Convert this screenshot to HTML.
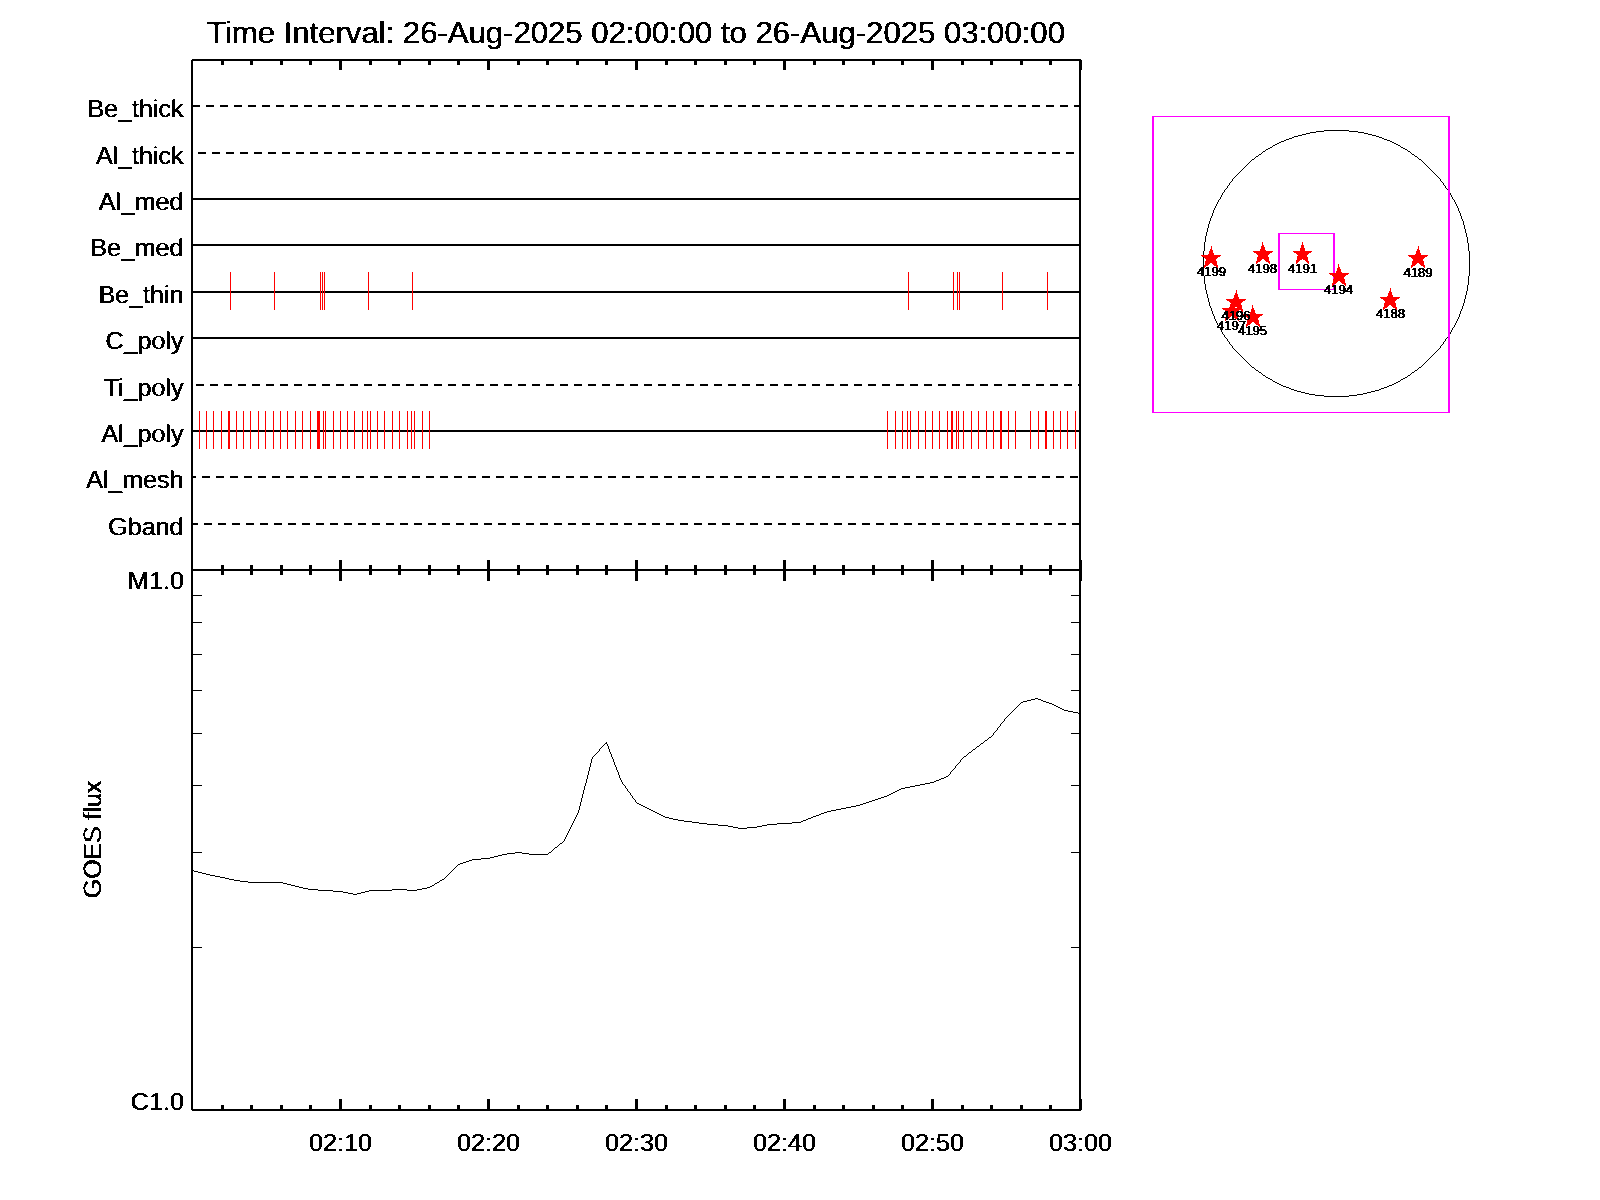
<!DOCTYPE html>
<html lang="en"><head><meta charset="utf-8"><title>Time Interval: 26-Aug-2025 02:00:00 to 26-Aug-2025 03:00:00</title>
<style>html,body{margin:0;padding:0;background:#fff}svg{display:block}</style></head>
<body><svg width="1600" height="1200" viewBox="0 0 1600 1200">
<defs><filter id="bw" x="-5%" y="-20%" width="110%" height="140%" color-interpolation-filters="sRGB"><feComponentTransfer><feFuncA type="discrete" tableValues="0 1"/></feComponentTransfer></filter>
<filter id="bwh" x="-5%" y="-20%" width="110%" height="140%" color-interpolation-filters="sRGB"><feComponentTransfer in="SourceGraphic" result="solid"><feFuncA type="discrete" tableValues="0 0 0 0 0 0 0 0 0 1"/></feComponentTransfer><feConvolveMatrix in="solid" order="3 1" kernelMatrix="0.38 0 0.38" divisor="1" preserveAlpha="false" edgeMode="none" result="boost"/><feComposite in="SourceGraphic" in2="boost" operator="arithmetic" k1="0" k2="1" k3="1" k4="0"/><feComponentTransfer><feFuncA type="discrete" tableValues="0 1"/></feComponentTransfer></filter>
<filter id="bwv" x="-20%" y="-5%" width="140%" height="110%" color-interpolation-filters="sRGB"><feComponentTransfer in="SourceGraphic" result="solid"><feFuncA type="discrete" tableValues="0 0 0 0 0 0 0 0 0 1"/></feComponentTransfer><feConvolveMatrix in="solid" order="1 3" kernelMatrix="0.38 0 0.38" divisor="1" preserveAlpha="false" edgeMode="none" result="boost"/><feComposite in="SourceGraphic" in2="boost" operator="arithmetic" k1="0" k2="1" k3="1" k4="0"/><feComponentTransfer><feFuncA type="discrete" tableValues="0 1"/></feComponentTransfer></filter></defs>
<rect width="1600" height="1200" fill="#fff"/>
<g shape-rendering="crispEdges">
<rect x="191" y="60" width="1" height="1050" fill="#000"/>
<rect x="192" y="59" width="1" height="1052" fill="#000"/>
<rect x="1080" y="60" width="1" height="1050" fill="#000"/>
<rect x="1079" y="59" width="1" height="1052" fill="#000"/>
<rect x="192" y="59" width="889" height="1" fill="#000"/>
<rect x="191" y="60" width="890" height="1" fill="#000"/>
<rect x="191" y="569" width="890" height="2" fill="#000"/>
<rect x="191" y="1109" width="890" height="1" fill="#000"/>
<rect x="192" y="1110" width="889" height="1" fill="#000"/>
<rect x="221" y="61" width="3" height="4" fill="#000"/>
<rect x="221" y="565" width="3" height="10" fill="#000"/>
<rect x="221" y="1105" width="3" height="4" fill="#000"/>
<rect x="250" y="61" width="3" height="4" fill="#000"/>
<rect x="250" y="565" width="3" height="10" fill="#000"/>
<rect x="250" y="1105" width="3" height="4" fill="#000"/>
<rect x="280" y="61" width="3" height="4" fill="#000"/>
<rect x="280" y="565" width="3" height="10" fill="#000"/>
<rect x="280" y="1105" width="3" height="4" fill="#000"/>
<rect x="309" y="61" width="3" height="4" fill="#000"/>
<rect x="309" y="565" width="3" height="10" fill="#000"/>
<rect x="309" y="1105" width="3" height="4" fill="#000"/>
<rect x="339" y="61" width="3" height="9" fill="#000"/>
<rect x="339" y="560" width="3" height="21" fill="#000"/>
<rect x="339" y="1099" width="3" height="10" fill="#000"/>
<rect x="369" y="61" width="3" height="4" fill="#000"/>
<rect x="369" y="565" width="3" height="10" fill="#000"/>
<rect x="369" y="1105" width="3" height="4" fill="#000"/>
<rect x="398" y="61" width="3" height="4" fill="#000"/>
<rect x="398" y="565" width="3" height="10" fill="#000"/>
<rect x="398" y="1105" width="3" height="4" fill="#000"/>
<rect x="428" y="61" width="3" height="4" fill="#000"/>
<rect x="428" y="565" width="3" height="10" fill="#000"/>
<rect x="428" y="1105" width="3" height="4" fill="#000"/>
<rect x="457" y="61" width="3" height="4" fill="#000"/>
<rect x="457" y="565" width="3" height="10" fill="#000"/>
<rect x="457" y="1105" width="3" height="4" fill="#000"/>
<rect x="487" y="61" width="3" height="9" fill="#000"/>
<rect x="487" y="560" width="3" height="21" fill="#000"/>
<rect x="487" y="1099" width="3" height="10" fill="#000"/>
<rect x="517" y="61" width="3" height="4" fill="#000"/>
<rect x="517" y="565" width="3" height="10" fill="#000"/>
<rect x="517" y="1105" width="3" height="4" fill="#000"/>
<rect x="546" y="61" width="3" height="4" fill="#000"/>
<rect x="546" y="565" width="3" height="10" fill="#000"/>
<rect x="546" y="1105" width="3" height="4" fill="#000"/>
<rect x="576" y="61" width="3" height="4" fill="#000"/>
<rect x="576" y="565" width="3" height="10" fill="#000"/>
<rect x="576" y="1105" width="3" height="4" fill="#000"/>
<rect x="605" y="61" width="3" height="4" fill="#000"/>
<rect x="605" y="565" width="3" height="10" fill="#000"/>
<rect x="605" y="1105" width="3" height="4" fill="#000"/>
<rect x="635" y="61" width="3" height="9" fill="#000"/>
<rect x="635" y="560" width="3" height="21" fill="#000"/>
<rect x="635" y="1099" width="3" height="10" fill="#000"/>
<rect x="665" y="61" width="3" height="4" fill="#000"/>
<rect x="665" y="565" width="3" height="10" fill="#000"/>
<rect x="665" y="1105" width="3" height="4" fill="#000"/>
<rect x="694" y="61" width="3" height="4" fill="#000"/>
<rect x="694" y="565" width="3" height="10" fill="#000"/>
<rect x="694" y="1105" width="3" height="4" fill="#000"/>
<rect x="724" y="61" width="3" height="4" fill="#000"/>
<rect x="724" y="565" width="3" height="10" fill="#000"/>
<rect x="724" y="1105" width="3" height="4" fill="#000"/>
<rect x="753" y="61" width="3" height="4" fill="#000"/>
<rect x="753" y="565" width="3" height="10" fill="#000"/>
<rect x="753" y="1105" width="3" height="4" fill="#000"/>
<rect x="783" y="61" width="3" height="9" fill="#000"/>
<rect x="783" y="560" width="3" height="21" fill="#000"/>
<rect x="783" y="1099" width="3" height="10" fill="#000"/>
<rect x="813" y="61" width="3" height="4" fill="#000"/>
<rect x="813" y="565" width="3" height="10" fill="#000"/>
<rect x="813" y="1105" width="3" height="4" fill="#000"/>
<rect x="842" y="61" width="3" height="4" fill="#000"/>
<rect x="842" y="565" width="3" height="10" fill="#000"/>
<rect x="842" y="1105" width="3" height="4" fill="#000"/>
<rect x="872" y="61" width="3" height="4" fill="#000"/>
<rect x="872" y="565" width="3" height="10" fill="#000"/>
<rect x="872" y="1105" width="3" height="4" fill="#000"/>
<rect x="901" y="61" width="3" height="4" fill="#000"/>
<rect x="901" y="565" width="3" height="10" fill="#000"/>
<rect x="901" y="1105" width="3" height="4" fill="#000"/>
<rect x="931" y="61" width="3" height="9" fill="#000"/>
<rect x="931" y="560" width="3" height="21" fill="#000"/>
<rect x="931" y="1099" width="3" height="10" fill="#000"/>
<rect x="961" y="61" width="3" height="4" fill="#000"/>
<rect x="961" y="565" width="3" height="10" fill="#000"/>
<rect x="961" y="1105" width="3" height="4" fill="#000"/>
<rect x="990" y="61" width="3" height="4" fill="#000"/>
<rect x="990" y="565" width="3" height="10" fill="#000"/>
<rect x="990" y="1105" width="3" height="4" fill="#000"/>
<rect x="1020" y="61" width="3" height="4" fill="#000"/>
<rect x="1020" y="565" width="3" height="10" fill="#000"/>
<rect x="1020" y="1105" width="3" height="4" fill="#000"/>
<rect x="1049" y="61" width="3" height="4" fill="#000"/>
<rect x="1049" y="565" width="3" height="10" fill="#000"/>
<rect x="1049" y="1105" width="3" height="4" fill="#000"/>
<rect x="1081" y="60" width="1" height="10" fill="#000"/>
<rect x="1081" y="560" width="1" height="21" fill="#000"/>
<rect x="1081" y="1099" width="1" height="11" fill="#000"/>
<rect x="193" y="105" width="7" height="2" fill="#000"/>
<rect x="206" y="105" width="8" height="2" fill="#000"/>
<rect x="220" y="105" width="8" height="2" fill="#000"/>
<rect x="234" y="105" width="8" height="2" fill="#000"/>
<rect x="248" y="105" width="8" height="2" fill="#000"/>
<rect x="262" y="105" width="8" height="2" fill="#000"/>
<rect x="276" y="105" width="8" height="2" fill="#000"/>
<rect x="290" y="105" width="8" height="2" fill="#000"/>
<rect x="304" y="105" width="8" height="2" fill="#000"/>
<rect x="318" y="105" width="8" height="2" fill="#000"/>
<rect x="332" y="105" width="8" height="2" fill="#000"/>
<rect x="346" y="105" width="8" height="2" fill="#000"/>
<rect x="360" y="105" width="8" height="2" fill="#000"/>
<rect x="374" y="105" width="8" height="2" fill="#000"/>
<rect x="388" y="105" width="8" height="2" fill="#000"/>
<rect x="402" y="105" width="8" height="2" fill="#000"/>
<rect x="416" y="105" width="8" height="2" fill="#000"/>
<rect x="430" y="105" width="8" height="2" fill="#000"/>
<rect x="444" y="105" width="8" height="2" fill="#000"/>
<rect x="458" y="105" width="8" height="2" fill="#000"/>
<rect x="472" y="105" width="8" height="2" fill="#000"/>
<rect x="486" y="105" width="8" height="2" fill="#000"/>
<rect x="500" y="105" width="8" height="2" fill="#000"/>
<rect x="514" y="105" width="8" height="2" fill="#000"/>
<rect x="528" y="105" width="8" height="2" fill="#000"/>
<rect x="542" y="105" width="8" height="2" fill="#000"/>
<rect x="556" y="105" width="8" height="2" fill="#000"/>
<rect x="570" y="105" width="8" height="2" fill="#000"/>
<rect x="584" y="105" width="8" height="2" fill="#000"/>
<rect x="598" y="105" width="8" height="2" fill="#000"/>
<rect x="612" y="105" width="8" height="2" fill="#000"/>
<rect x="626" y="105" width="8" height="2" fill="#000"/>
<rect x="640" y="105" width="8" height="2" fill="#000"/>
<rect x="654" y="105" width="8" height="2" fill="#000"/>
<rect x="668" y="105" width="8" height="2" fill="#000"/>
<rect x="682" y="105" width="8" height="2" fill="#000"/>
<rect x="696" y="105" width="8" height="2" fill="#000"/>
<rect x="710" y="105" width="8" height="2" fill="#000"/>
<rect x="724" y="105" width="8" height="2" fill="#000"/>
<rect x="738" y="105" width="8" height="2" fill="#000"/>
<rect x="752" y="105" width="8" height="2" fill="#000"/>
<rect x="766" y="105" width="8" height="2" fill="#000"/>
<rect x="780" y="105" width="8" height="2" fill="#000"/>
<rect x="794" y="105" width="8" height="2" fill="#000"/>
<rect x="808" y="105" width="8" height="2" fill="#000"/>
<rect x="822" y="105" width="8" height="2" fill="#000"/>
<rect x="836" y="105" width="8" height="2" fill="#000"/>
<rect x="850" y="105" width="8" height="2" fill="#000"/>
<rect x="864" y="105" width="8" height="2" fill="#000"/>
<rect x="878" y="105" width="8" height="2" fill="#000"/>
<rect x="892" y="105" width="8" height="2" fill="#000"/>
<rect x="906" y="105" width="8" height="2" fill="#000"/>
<rect x="920" y="105" width="8" height="2" fill="#000"/>
<rect x="934" y="105" width="8" height="2" fill="#000"/>
<rect x="948" y="105" width="8" height="2" fill="#000"/>
<rect x="962" y="105" width="8" height="2" fill="#000"/>
<rect x="976" y="105" width="8" height="2" fill="#000"/>
<rect x="990" y="105" width="8" height="2" fill="#000"/>
<rect x="1004" y="105" width="8" height="2" fill="#000"/>
<rect x="1018" y="105" width="8" height="2" fill="#000"/>
<rect x="1032" y="105" width="8" height="2" fill="#000"/>
<rect x="1046" y="105" width="8" height="2" fill="#000"/>
<rect x="1060" y="105" width="8" height="2" fill="#000"/>
<rect x="1074" y="105" width="5" height="2" fill="#000"/>
<rect x="198" y="152" width="8" height="2" fill="#000"/>
<rect x="212" y="152" width="8" height="2" fill="#000"/>
<rect x="226" y="152" width="8" height="2" fill="#000"/>
<rect x="240" y="152" width="8" height="2" fill="#000"/>
<rect x="254" y="152" width="8" height="2" fill="#000"/>
<rect x="268" y="152" width="8" height="2" fill="#000"/>
<rect x="282" y="152" width="8" height="2" fill="#000"/>
<rect x="296" y="152" width="8" height="2" fill="#000"/>
<rect x="310" y="152" width="8" height="2" fill="#000"/>
<rect x="324" y="152" width="8" height="2" fill="#000"/>
<rect x="338" y="152" width="8" height="2" fill="#000"/>
<rect x="352" y="152" width="8" height="2" fill="#000"/>
<rect x="366" y="152" width="8" height="2" fill="#000"/>
<rect x="380" y="152" width="8" height="2" fill="#000"/>
<rect x="394" y="152" width="8" height="2" fill="#000"/>
<rect x="408" y="152" width="8" height="2" fill="#000"/>
<rect x="422" y="152" width="8" height="2" fill="#000"/>
<rect x="436" y="152" width="8" height="2" fill="#000"/>
<rect x="450" y="152" width="8" height="2" fill="#000"/>
<rect x="464" y="152" width="8" height="2" fill="#000"/>
<rect x="478" y="152" width="8" height="2" fill="#000"/>
<rect x="492" y="152" width="8" height="2" fill="#000"/>
<rect x="506" y="152" width="8" height="2" fill="#000"/>
<rect x="520" y="152" width="8" height="2" fill="#000"/>
<rect x="534" y="152" width="8" height="2" fill="#000"/>
<rect x="548" y="152" width="8" height="2" fill="#000"/>
<rect x="562" y="152" width="8" height="2" fill="#000"/>
<rect x="576" y="152" width="8" height="2" fill="#000"/>
<rect x="590" y="152" width="8" height="2" fill="#000"/>
<rect x="604" y="152" width="8" height="2" fill="#000"/>
<rect x="618" y="152" width="8" height="2" fill="#000"/>
<rect x="632" y="152" width="8" height="2" fill="#000"/>
<rect x="646" y="152" width="8" height="2" fill="#000"/>
<rect x="660" y="152" width="8" height="2" fill="#000"/>
<rect x="674" y="152" width="8" height="2" fill="#000"/>
<rect x="688" y="152" width="8" height="2" fill="#000"/>
<rect x="702" y="152" width="8" height="2" fill="#000"/>
<rect x="716" y="152" width="8" height="2" fill="#000"/>
<rect x="730" y="152" width="8" height="2" fill="#000"/>
<rect x="744" y="152" width="8" height="2" fill="#000"/>
<rect x="758" y="152" width="8" height="2" fill="#000"/>
<rect x="772" y="152" width="8" height="2" fill="#000"/>
<rect x="786" y="152" width="8" height="2" fill="#000"/>
<rect x="800" y="152" width="8" height="2" fill="#000"/>
<rect x="814" y="152" width="8" height="2" fill="#000"/>
<rect x="828" y="152" width="8" height="2" fill="#000"/>
<rect x="842" y="152" width="8" height="2" fill="#000"/>
<rect x="856" y="152" width="8" height="2" fill="#000"/>
<rect x="870" y="152" width="8" height="2" fill="#000"/>
<rect x="884" y="152" width="8" height="2" fill="#000"/>
<rect x="898" y="152" width="8" height="2" fill="#000"/>
<rect x="912" y="152" width="8" height="2" fill="#000"/>
<rect x="926" y="152" width="8" height="2" fill="#000"/>
<rect x="940" y="152" width="8" height="2" fill="#000"/>
<rect x="954" y="152" width="8" height="2" fill="#000"/>
<rect x="968" y="152" width="8" height="2" fill="#000"/>
<rect x="982" y="152" width="8" height="2" fill="#000"/>
<rect x="996" y="152" width="8" height="2" fill="#000"/>
<rect x="1010" y="152" width="8" height="2" fill="#000"/>
<rect x="1024" y="152" width="8" height="2" fill="#000"/>
<rect x="1038" y="152" width="8" height="2" fill="#000"/>
<rect x="1052" y="152" width="8" height="2" fill="#000"/>
<rect x="1066" y="152" width="8" height="2" fill="#000"/>
<rect x="193" y="198" width="886" height="2" fill="#000"/>
<rect x="193" y="244" width="886" height="2" fill="#000"/>
<rect x="193" y="291" width="886" height="2" fill="#000"/>
<rect x="193" y="337" width="886" height="2" fill="#000"/>
<rect x="196" y="384" width="8" height="2" fill="#000"/>
<rect x="210" y="384" width="8" height="2" fill="#000"/>
<rect x="224" y="384" width="8" height="2" fill="#000"/>
<rect x="238" y="384" width="8" height="2" fill="#000"/>
<rect x="252" y="384" width="8" height="2" fill="#000"/>
<rect x="266" y="384" width="8" height="2" fill="#000"/>
<rect x="280" y="384" width="8" height="2" fill="#000"/>
<rect x="294" y="384" width="8" height="2" fill="#000"/>
<rect x="308" y="384" width="8" height="2" fill="#000"/>
<rect x="322" y="384" width="8" height="2" fill="#000"/>
<rect x="336" y="384" width="8" height="2" fill="#000"/>
<rect x="350" y="384" width="8" height="2" fill="#000"/>
<rect x="364" y="384" width="8" height="2" fill="#000"/>
<rect x="378" y="384" width="8" height="2" fill="#000"/>
<rect x="392" y="384" width="8" height="2" fill="#000"/>
<rect x="406" y="384" width="8" height="2" fill="#000"/>
<rect x="420" y="384" width="8" height="2" fill="#000"/>
<rect x="434" y="384" width="8" height="2" fill="#000"/>
<rect x="448" y="384" width="8" height="2" fill="#000"/>
<rect x="462" y="384" width="8" height="2" fill="#000"/>
<rect x="476" y="384" width="8" height="2" fill="#000"/>
<rect x="490" y="384" width="8" height="2" fill="#000"/>
<rect x="504" y="384" width="8" height="2" fill="#000"/>
<rect x="518" y="384" width="8" height="2" fill="#000"/>
<rect x="532" y="384" width="8" height="2" fill="#000"/>
<rect x="546" y="384" width="8" height="2" fill="#000"/>
<rect x="560" y="384" width="8" height="2" fill="#000"/>
<rect x="574" y="384" width="8" height="2" fill="#000"/>
<rect x="588" y="384" width="8" height="2" fill="#000"/>
<rect x="602" y="384" width="8" height="2" fill="#000"/>
<rect x="616" y="384" width="8" height="2" fill="#000"/>
<rect x="630" y="384" width="8" height="2" fill="#000"/>
<rect x="644" y="384" width="8" height="2" fill="#000"/>
<rect x="658" y="384" width="8" height="2" fill="#000"/>
<rect x="672" y="384" width="8" height="2" fill="#000"/>
<rect x="686" y="384" width="8" height="2" fill="#000"/>
<rect x="700" y="384" width="8" height="2" fill="#000"/>
<rect x="714" y="384" width="8" height="2" fill="#000"/>
<rect x="728" y="384" width="8" height="2" fill="#000"/>
<rect x="742" y="384" width="8" height="2" fill="#000"/>
<rect x="756" y="384" width="8" height="2" fill="#000"/>
<rect x="770" y="384" width="8" height="2" fill="#000"/>
<rect x="784" y="384" width="8" height="2" fill="#000"/>
<rect x="798" y="384" width="8" height="2" fill="#000"/>
<rect x="812" y="384" width="8" height="2" fill="#000"/>
<rect x="826" y="384" width="8" height="2" fill="#000"/>
<rect x="840" y="384" width="8" height="2" fill="#000"/>
<rect x="854" y="384" width="8" height="2" fill="#000"/>
<rect x="868" y="384" width="8" height="2" fill="#000"/>
<rect x="882" y="384" width="8" height="2" fill="#000"/>
<rect x="896" y="384" width="8" height="2" fill="#000"/>
<rect x="910" y="384" width="8" height="2" fill="#000"/>
<rect x="924" y="384" width="8" height="2" fill="#000"/>
<rect x="938" y="384" width="8" height="2" fill="#000"/>
<rect x="952" y="384" width="8" height="2" fill="#000"/>
<rect x="966" y="384" width="8" height="2" fill="#000"/>
<rect x="980" y="384" width="8" height="2" fill="#000"/>
<rect x="994" y="384" width="8" height="2" fill="#000"/>
<rect x="1008" y="384" width="8" height="2" fill="#000"/>
<rect x="1022" y="384" width="8" height="2" fill="#000"/>
<rect x="1036" y="384" width="8" height="2" fill="#000"/>
<rect x="1050" y="384" width="8" height="2" fill="#000"/>
<rect x="1064" y="384" width="8" height="2" fill="#000"/>
<rect x="1078" y="384" width="1" height="2" fill="#000"/>
<rect x="193" y="430" width="886" height="2" fill="#000"/>
<rect x="193" y="476" width="3" height="2" fill="#000"/>
<rect x="202" y="476" width="8" height="2" fill="#000"/>
<rect x="216" y="476" width="8" height="2" fill="#000"/>
<rect x="230" y="476" width="8" height="2" fill="#000"/>
<rect x="244" y="476" width="8" height="2" fill="#000"/>
<rect x="258" y="476" width="8" height="2" fill="#000"/>
<rect x="272" y="476" width="8" height="2" fill="#000"/>
<rect x="286" y="476" width="8" height="2" fill="#000"/>
<rect x="300" y="476" width="8" height="2" fill="#000"/>
<rect x="314" y="476" width="8" height="2" fill="#000"/>
<rect x="328" y="476" width="8" height="2" fill="#000"/>
<rect x="342" y="476" width="8" height="2" fill="#000"/>
<rect x="356" y="476" width="8" height="2" fill="#000"/>
<rect x="370" y="476" width="8" height="2" fill="#000"/>
<rect x="384" y="476" width="8" height="2" fill="#000"/>
<rect x="398" y="476" width="8" height="2" fill="#000"/>
<rect x="412" y="476" width="8" height="2" fill="#000"/>
<rect x="426" y="476" width="8" height="2" fill="#000"/>
<rect x="440" y="476" width="8" height="2" fill="#000"/>
<rect x="454" y="476" width="8" height="2" fill="#000"/>
<rect x="468" y="476" width="8" height="2" fill="#000"/>
<rect x="482" y="476" width="8" height="2" fill="#000"/>
<rect x="496" y="476" width="8" height="2" fill="#000"/>
<rect x="510" y="476" width="8" height="2" fill="#000"/>
<rect x="524" y="476" width="8" height="2" fill="#000"/>
<rect x="538" y="476" width="8" height="2" fill="#000"/>
<rect x="552" y="476" width="8" height="2" fill="#000"/>
<rect x="566" y="476" width="8" height="2" fill="#000"/>
<rect x="580" y="476" width="8" height="2" fill="#000"/>
<rect x="594" y="476" width="8" height="2" fill="#000"/>
<rect x="608" y="476" width="8" height="2" fill="#000"/>
<rect x="622" y="476" width="8" height="2" fill="#000"/>
<rect x="636" y="476" width="8" height="2" fill="#000"/>
<rect x="650" y="476" width="8" height="2" fill="#000"/>
<rect x="664" y="476" width="8" height="2" fill="#000"/>
<rect x="678" y="476" width="8" height="2" fill="#000"/>
<rect x="692" y="476" width="8" height="2" fill="#000"/>
<rect x="706" y="476" width="8" height="2" fill="#000"/>
<rect x="720" y="476" width="8" height="2" fill="#000"/>
<rect x="734" y="476" width="8" height="2" fill="#000"/>
<rect x="748" y="476" width="8" height="2" fill="#000"/>
<rect x="762" y="476" width="8" height="2" fill="#000"/>
<rect x="776" y="476" width="8" height="2" fill="#000"/>
<rect x="790" y="476" width="8" height="2" fill="#000"/>
<rect x="804" y="476" width="8" height="2" fill="#000"/>
<rect x="818" y="476" width="8" height="2" fill="#000"/>
<rect x="832" y="476" width="8" height="2" fill="#000"/>
<rect x="846" y="476" width="8" height="2" fill="#000"/>
<rect x="860" y="476" width="8" height="2" fill="#000"/>
<rect x="874" y="476" width="8" height="2" fill="#000"/>
<rect x="888" y="476" width="8" height="2" fill="#000"/>
<rect x="902" y="476" width="8" height="2" fill="#000"/>
<rect x="916" y="476" width="8" height="2" fill="#000"/>
<rect x="930" y="476" width="8" height="2" fill="#000"/>
<rect x="944" y="476" width="8" height="2" fill="#000"/>
<rect x="958" y="476" width="8" height="2" fill="#000"/>
<rect x="972" y="476" width="8" height="2" fill="#000"/>
<rect x="986" y="476" width="8" height="2" fill="#000"/>
<rect x="1000" y="476" width="8" height="2" fill="#000"/>
<rect x="1014" y="476" width="8" height="2" fill="#000"/>
<rect x="1028" y="476" width="8" height="2" fill="#000"/>
<rect x="1042" y="476" width="8" height="2" fill="#000"/>
<rect x="1056" y="476" width="8" height="2" fill="#000"/>
<rect x="1070" y="476" width="8" height="2" fill="#000"/>
<rect x="193" y="523" width="5" height="2" fill="#000"/>
<rect x="204" y="523" width="8" height="2" fill="#000"/>
<rect x="218" y="523" width="8" height="2" fill="#000"/>
<rect x="232" y="523" width="8" height="2" fill="#000"/>
<rect x="246" y="523" width="8" height="2" fill="#000"/>
<rect x="260" y="523" width="8" height="2" fill="#000"/>
<rect x="274" y="523" width="8" height="2" fill="#000"/>
<rect x="288" y="523" width="8" height="2" fill="#000"/>
<rect x="302" y="523" width="8" height="2" fill="#000"/>
<rect x="316" y="523" width="8" height="2" fill="#000"/>
<rect x="330" y="523" width="8" height="2" fill="#000"/>
<rect x="344" y="523" width="8" height="2" fill="#000"/>
<rect x="358" y="523" width="8" height="2" fill="#000"/>
<rect x="372" y="523" width="8" height="2" fill="#000"/>
<rect x="386" y="523" width="8" height="2" fill="#000"/>
<rect x="400" y="523" width="8" height="2" fill="#000"/>
<rect x="414" y="523" width="8" height="2" fill="#000"/>
<rect x="428" y="523" width="8" height="2" fill="#000"/>
<rect x="442" y="523" width="8" height="2" fill="#000"/>
<rect x="456" y="523" width="8" height="2" fill="#000"/>
<rect x="470" y="523" width="8" height="2" fill="#000"/>
<rect x="484" y="523" width="8" height="2" fill="#000"/>
<rect x="498" y="523" width="8" height="2" fill="#000"/>
<rect x="512" y="523" width="8" height="2" fill="#000"/>
<rect x="526" y="523" width="8" height="2" fill="#000"/>
<rect x="540" y="523" width="8" height="2" fill="#000"/>
<rect x="554" y="523" width="8" height="2" fill="#000"/>
<rect x="568" y="523" width="8" height="2" fill="#000"/>
<rect x="582" y="523" width="8" height="2" fill="#000"/>
<rect x="596" y="523" width="8" height="2" fill="#000"/>
<rect x="610" y="523" width="8" height="2" fill="#000"/>
<rect x="624" y="523" width="8" height="2" fill="#000"/>
<rect x="638" y="523" width="8" height="2" fill="#000"/>
<rect x="652" y="523" width="8" height="2" fill="#000"/>
<rect x="666" y="523" width="8" height="2" fill="#000"/>
<rect x="680" y="523" width="8" height="2" fill="#000"/>
<rect x="694" y="523" width="8" height="2" fill="#000"/>
<rect x="708" y="523" width="8" height="2" fill="#000"/>
<rect x="722" y="523" width="8" height="2" fill="#000"/>
<rect x="736" y="523" width="8" height="2" fill="#000"/>
<rect x="750" y="523" width="8" height="2" fill="#000"/>
<rect x="764" y="523" width="8" height="2" fill="#000"/>
<rect x="778" y="523" width="8" height="2" fill="#000"/>
<rect x="792" y="523" width="8" height="2" fill="#000"/>
<rect x="806" y="523" width="8" height="2" fill="#000"/>
<rect x="820" y="523" width="8" height="2" fill="#000"/>
<rect x="834" y="523" width="8" height="2" fill="#000"/>
<rect x="848" y="523" width="8" height="2" fill="#000"/>
<rect x="862" y="523" width="8" height="2" fill="#000"/>
<rect x="876" y="523" width="8" height="2" fill="#000"/>
<rect x="890" y="523" width="8" height="2" fill="#000"/>
<rect x="904" y="523" width="8" height="2" fill="#000"/>
<rect x="918" y="523" width="8" height="2" fill="#000"/>
<rect x="932" y="523" width="8" height="2" fill="#000"/>
<rect x="946" y="523" width="8" height="2" fill="#000"/>
<rect x="960" y="523" width="8" height="2" fill="#000"/>
<rect x="974" y="523" width="8" height="2" fill="#000"/>
<rect x="988" y="523" width="8" height="2" fill="#000"/>
<rect x="1002" y="523" width="8" height="2" fill="#000"/>
<rect x="1016" y="523" width="8" height="2" fill="#000"/>
<rect x="1030" y="523" width="8" height="2" fill="#000"/>
<rect x="1044" y="523" width="8" height="2" fill="#000"/>
<rect x="1058" y="523" width="8" height="2" fill="#000"/>
<rect x="1072" y="523" width="7" height="2" fill="#000"/>
<rect x="193" y="595" width="9" height="1" fill="#000"/>
<rect x="1071" y="595" width="8" height="1" fill="#000"/>
<rect x="193" y="622" width="9" height="1" fill="#000"/>
<rect x="1071" y="622" width="8" height="1" fill="#000"/>
<rect x="193" y="654" width="9" height="1" fill="#000"/>
<rect x="1071" y="654" width="8" height="1" fill="#000"/>
<rect x="193" y="690" width="9" height="1" fill="#000"/>
<rect x="1071" y="690" width="8" height="1" fill="#000"/>
<rect x="193" y="733" width="9" height="1" fill="#000"/>
<rect x="1071" y="733" width="8" height="1" fill="#000"/>
<rect x="193" y="785" width="9" height="1" fill="#000"/>
<rect x="1071" y="785" width="8" height="1" fill="#000"/>
<rect x="193" y="852" width="9" height="1" fill="#000"/>
<rect x="1071" y="852" width="8" height="1" fill="#000"/>
<rect x="193" y="947" width="9" height="1" fill="#000"/>
<rect x="1071" y="947" width="8" height="1" fill="#000"/>
<rect x="230" y="272" width="1" height="38" fill="#ff0000"/>
<rect x="274" y="272" width="1" height="38" fill="#ff0000"/>
<rect x="320" y="272" width="1" height="38" fill="#ff0000"/>
<rect x="322" y="272" width="1" height="38" fill="#ff0000"/>
<rect x="324" y="272" width="1" height="38" fill="#ff0000"/>
<rect x="368" y="272" width="1" height="38" fill="#ff0000"/>
<rect x="412" y="272" width="1" height="38" fill="#ff0000"/>
<rect x="908" y="272" width="1" height="38" fill="#ff0000"/>
<rect x="953" y="272" width="1" height="38" fill="#ff0000"/>
<rect x="957" y="272" width="1" height="38" fill="#ff0000"/>
<rect x="959" y="272" width="1" height="38" fill="#ff0000"/>
<rect x="1002" y="272" width="1" height="38" fill="#ff0000"/>
<rect x="1047" y="272" width="1" height="38" fill="#ff0000"/>
<rect x="199" y="411" width="1" height="38" fill="#ff0000"/>
<rect x="206" y="411" width="1" height="38" fill="#ff0000"/>
<rect x="213" y="411" width="1" height="38" fill="#ff0000"/>
<rect x="221" y="411" width="1" height="38" fill="#ff0000"/>
<rect x="228" y="411" width="1" height="38" fill="#ff0000"/>
<rect x="229" y="411" width="1" height="38" fill="#ff0000"/>
<rect x="236" y="411" width="1" height="38" fill="#ff0000"/>
<rect x="243" y="411" width="1" height="38" fill="#ff0000"/>
<rect x="250" y="411" width="1" height="38" fill="#ff0000"/>
<rect x="258" y="411" width="1" height="38" fill="#ff0000"/>
<rect x="265" y="411" width="1" height="38" fill="#ff0000"/>
<rect x="273" y="411" width="1" height="38" fill="#ff0000"/>
<rect x="280" y="411" width="1" height="38" fill="#ff0000"/>
<rect x="287" y="411" width="1" height="38" fill="#ff0000"/>
<rect x="295" y="411" width="1" height="38" fill="#ff0000"/>
<rect x="302" y="411" width="1" height="38" fill="#ff0000"/>
<rect x="310" y="411" width="1" height="38" fill="#ff0000"/>
<rect x="317" y="411" width="1" height="38" fill="#ff0000"/>
<rect x="318" y="411" width="1" height="38" fill="#ff0000"/>
<rect x="319" y="411" width="1" height="38" fill="#ff0000"/>
<rect x="323" y="411" width="1" height="38" fill="#ff0000"/>
<rect x="325" y="411" width="1" height="38" fill="#ff0000"/>
<rect x="333" y="411" width="1" height="38" fill="#ff0000"/>
<rect x="340" y="411" width="1" height="38" fill="#ff0000"/>
<rect x="347" y="411" width="1" height="38" fill="#ff0000"/>
<rect x="354" y="411" width="1" height="38" fill="#ff0000"/>
<rect x="362" y="411" width="1" height="38" fill="#ff0000"/>
<rect x="367" y="411" width="1" height="38" fill="#ff0000"/>
<rect x="370" y="411" width="1" height="38" fill="#ff0000"/>
<rect x="377" y="411" width="1" height="38" fill="#ff0000"/>
<rect x="384" y="411" width="1" height="38" fill="#ff0000"/>
<rect x="392" y="411" width="1" height="38" fill="#ff0000"/>
<rect x="399" y="411" width="1" height="38" fill="#ff0000"/>
<rect x="407" y="411" width="1" height="38" fill="#ff0000"/>
<rect x="411" y="411" width="1" height="38" fill="#ff0000"/>
<rect x="414" y="411" width="1" height="38" fill="#ff0000"/>
<rect x="422" y="411" width="1" height="38" fill="#ff0000"/>
<rect x="429" y="411" width="1" height="38" fill="#ff0000"/>
<rect x="887" y="411" width="1" height="38" fill="#ff0000"/>
<rect x="895" y="411" width="1" height="38" fill="#ff0000"/>
<rect x="902" y="411" width="1" height="38" fill="#ff0000"/>
<rect x="907" y="411" width="1" height="38" fill="#ff0000"/>
<rect x="910" y="411" width="1" height="38" fill="#ff0000"/>
<rect x="918" y="411" width="1" height="38" fill="#ff0000"/>
<rect x="925" y="411" width="1" height="38" fill="#ff0000"/>
<rect x="932" y="411" width="1" height="38" fill="#ff0000"/>
<rect x="939" y="411" width="1" height="38" fill="#ff0000"/>
<rect x="947" y="411" width="1" height="38" fill="#ff0000"/>
<rect x="951" y="411" width="1" height="38" fill="#ff0000"/>
<rect x="952" y="411" width="1" height="38" fill="#ff0000"/>
<rect x="956" y="411" width="1" height="38" fill="#ff0000"/>
<rect x="958" y="411" width="1" height="38" fill="#ff0000"/>
<rect x="963" y="411" width="1" height="38" fill="#ff0000"/>
<rect x="971" y="411" width="1" height="38" fill="#ff0000"/>
<rect x="978" y="411" width="1" height="38" fill="#ff0000"/>
<rect x="986" y="411" width="1" height="38" fill="#ff0000"/>
<rect x="993" y="411" width="1" height="38" fill="#ff0000"/>
<rect x="1000" y="411" width="1" height="38" fill="#ff0000"/>
<rect x="1001" y="411" width="1" height="38" fill="#ff0000"/>
<rect x="1008" y="411" width="1" height="38" fill="#ff0000"/>
<rect x="1015" y="411" width="1" height="38" fill="#ff0000"/>
<rect x="1030" y="411" width="1" height="38" fill="#ff0000"/>
<rect x="1038" y="411" width="1" height="38" fill="#ff0000"/>
<rect x="1045" y="411" width="1" height="38" fill="#ff0000"/>
<rect x="1046" y="411" width="1" height="38" fill="#ff0000"/>
<rect x="1053" y="411" width="1" height="38" fill="#ff0000"/>
<rect x="1060" y="411" width="1" height="38" fill="#ff0000"/>
<rect x="1067" y="411" width="1" height="38" fill="#ff0000"/>
<rect x="1075" y="411" width="1" height="38" fill="#ff0000"/>
</g>
<path d="M1035 698h3v1h-3zM1031 699h4v1h-4zM1038 699h3v1h-3zM1027 700h4v1h-4zM1041 700h2v1h-2zM1023 701h4v1h-4zM1043 701h3v1h-3zM1021 702h2v1h-2zM1046 702h3v1h-3zM1020 703h1v1h-1zM1049 703h3v1h-3zM1019 704h1v1h-1zM1052 704h2v1h-2zM1018 705h1v1h-1zM1054 705h2v1h-2zM1017 706h1v1h-1zM1056 706h2v1h-2zM1016 707h1v1h-1zM1058 707h2v1h-2zM1015 708h1v1h-1zM1060 708h2v1h-2zM1014 709h1v1h-1zM1062 709h2v1h-2zM1013 710h1v1h-1zM1064 710h4v1h-4zM1012 711h1v1h-1zM1068 711h5v1h-5zM1011 712h1v1h-1zM1073 712h5v1h-5zM1010 713h1v1h-1zM1078 713h3v1h-3zM1009 714h1v1h-1zM1008 715h1v1h-1zM1007 716h1v1h-1zM1006 717h1v1h-1zM1005 718h1v1h-1zM1004 719h1v2h-1zM1003 721h1v1h-1zM1002 722h1v1h-1zM1001 723h1v1h-1zM1000 724h1v2h-1zM999 726h1v1h-1zM998 727h1v1h-1zM997 728h1v2h-1zM996 730h1v1h-1zM995 731h1v1h-1zM994 732h1v1h-1zM993 733h1v2h-1zM992 735h1v1h-1zM991 736h1v1h-1zM989 737h2v1h-2zM988 738h1v1h-1zM987 739h1v1h-1zM985 740h2v1h-2zM984 741h1v1h-1zM606 742h1v1h-1zM983 742h1v1h-1zM605 743h2v1h-2zM981 743h2v1h-2zM604 744h1v1h-1zM607 744h1v2h-1zM980 744h1v1h-1zM603 745h1v1h-1zM979 745h1v1h-1zM602 746h1v1h-1zM608 746h1v3h-1zM977 746h2v1h-2zM601 747h1v1h-1zM976 747h1v1h-1zM600 748h1v1h-1zM975 748h1v1h-1zM599 749h1v2h-1zM609 749h1v3h-1zM973 749h2v1h-2zM972 750h1v1h-1zM598 751h1v1h-1zM971 751h1v1h-1zM597 752h1v1h-1zM610 752h1v2h-1zM969 752h2v1h-2zM596 753h1v1h-1zM968 753h1v1h-1zM595 754h1v1h-1zM611 754h1v3h-1zM967 754h1v1h-1zM594 755h1v1h-1zM966 755h1v1h-1zM593 756h1v1h-1zM964 756h2v1h-2zM592 757h1v2h-1zM612 757h1v2h-1zM963 757h1v1h-1zM962 758h1v1h-1zM591 759h1v4h-1zM613 759h1v3h-1zM961 759h1v1h-1zM960 760h1v2h-1zM614 762h1v3h-1zM959 762h1v1h-1zM590 763h1v4h-1zM958 763h1v1h-1zM957 764h1v1h-1zM615 765h1v2h-1zM956 765h1v1h-1zM955 766h1v2h-1zM589 767h1v4h-1zM616 767h1v3h-1zM954 768h1v1h-1zM953 769h1v1h-1zM617 770h1v2h-1zM952 770h1v1h-1zM588 771h1v4h-1zM951 771h1v1h-1zM618 772h1v3h-1zM950 772h1v2h-1zM949 774h1v1h-1zM587 775h1v4h-1zM619 775h1v3h-1zM948 775h1v1h-1zM946 776h2v1h-2zM944 777h2v1h-2zM620 778h1v2h-1zM941 778h3v1h-3zM586 779h1v4h-1zM939 779h2v1h-2zM621 780h1v2h-1zM936 780h3v1h-3zM934 781h2v1h-2zM622 782h1v2h-1zM930 782h4v1h-4zM585 783h1v3h-1zM925 783h5v1h-5zM623 784h1v1h-1zM920 784h5v1h-5zM624 785h1v1h-1zM915 785h5v1h-5zM584 786h1v4h-1zM625 786h1v2h-1zM910 786h5v1h-5zM905 787h5v1h-5zM626 788h1v1h-1zM901 788h4v1h-4zM627 789h1v2h-1zM899 789h2v1h-2zM583 790h1v4h-1zM897 790h2v1h-2zM628 791h1v1h-1zM895 791h2v1h-2zM629 792h1v1h-1zM893 792h2v1h-2zM630 793h1v2h-1zM891 793h2v1h-2zM582 794h1v4h-1zM889 794h2v1h-2zM631 795h1v1h-1zM887 795h2v1h-2zM632 796h1v2h-1zM884 796h3v1h-3zM881 797h3v1h-3zM581 798h1v4h-1zM633 798h1v1h-1zM878 798h3v1h-3zM634 799h1v1h-1zM875 799h3v1h-3zM635 800h1v2h-1zM872 800h3v1h-3zM869 801h3v1h-3zM580 802h1v4h-1zM636 802h1v1h-1zM866 802h3v1h-3zM637 803h2v1h-2zM863 803h3v1h-3zM639 804h2v1h-2zM860 804h3v1h-3zM641 805h2v1h-2zM856 805h4v1h-4zM579 806h1v4h-1zM643 806h2v1h-2zM851 806h5v1h-5zM645 807h2v1h-2zM846 807h5v1h-5zM647 808h2v1h-2zM841 808h5v1h-5zM649 809h2v1h-2zM836 809h5v1h-5zM578 810h1v3h-1zM651 810h2v1h-2zM831 810h5v1h-5zM653 811h2v1h-2zM827 811h4v1h-4zM655 812h2v1h-2zM824 812h3v1h-3zM577 813h1v2h-1zM657 813h2v1h-2zM821 813h3v1h-3zM659 814h2v1h-2zM819 814h2v1h-2zM576 815h1v2h-1zM661 815h2v1h-2zM816 815h3v1h-3zM663 816h2v1h-2zM813 816h3v1h-3zM575 817h1v2h-1zM665 817h4v1h-4zM811 817h2v1h-2zM669 818h4v1h-4zM808 818h3v1h-3zM574 819h1v2h-1zM673 819h5v1h-5zM806 819h2v1h-2zM678 820h6v1h-6zM803 820h3v1h-3zM573 821h1v2h-1zM684 821h8v1h-8zM801 821h2v1h-2zM692 822h7v1h-7zM792 822h9v1h-9zM572 823h1v2h-1zM699 823h8v1h-8zM777 823h15v1h-15zM707 824h11v1h-11zM767 824h10v1h-10zM571 825h1v2h-1zM718 825h10v1h-10zM762 825h5v1h-5zM728 826h5v1h-5zM757 826h5v1h-5zM570 827h1v2h-1zM733 827h5v1h-5zM747 827h10v1h-10zM738 828h9v1h-9zM569 829h1v2h-1zM568 831h1v2h-1zM567 833h1v2h-1zM566 835h1v2h-1zM565 837h1v2h-1zM564 839h1v2h-1zM563 841h1v1h-1zM562 842h1v1h-1zM560 843h2v1h-2zM559 844h1v1h-1zM558 845h1v1h-1zM557 846h1v1h-1zM555 847h2v1h-2zM554 848h1v1h-1zM553 849h1v1h-1zM552 850h1v1h-1zM551 851h1v1h-1zM515 852h7v1h-7zM549 852h2v1h-2zM507 853h8v1h-8zM522 853h7v1h-7zM548 853h1v1h-1zM502 854h5v1h-5zM529 854h19v1h-19zM498 855h4v1h-4zM494 856h4v1h-4zM490 857h4v1h-4zM481 858h9v1h-9zM472 859h9v1h-9zM469 860h3v1h-3zM466 861h3v1h-3zM463 862h3v1h-3zM460 863h3v1h-3zM458 864h2v1h-2zM457 865h1v1h-1zM456 866h1v1h-1zM455 867h1v1h-1zM454 868h1v1h-1zM453 869h1v1h-1zM192 870h2v1h-2zM452 870h1v1h-1zM194 871h4v1h-4zM451 871h1v1h-1zM198 872h4v1h-4zM450 872h1v1h-1zM202 873h4v1h-4zM449 873h1v1h-1zM206 874h4v1h-4zM448 874h1v1h-1zM210 875h5v1h-5zM447 875h1v1h-1zM215 876h5v1h-5zM446 876h1v1h-1zM220 877h5v1h-5zM445 877h1v1h-1zM225 878h4v1h-4zM444 878h1v1h-1zM229 879h5v1h-5zM442 879h2v1h-2zM234 880h6v1h-6zM440 880h2v1h-2zM240 881h8v1h-8zM439 881h1v1h-1zM248 882h35v1h-35zM437 882h2v1h-2zM283 883h4v1h-4zM435 883h2v1h-2zM287 884h4v1h-4zM434 884h1v1h-1zM291 885h4v1h-4zM432 885h2v1h-2zM295 886h4v1h-4zM430 886h2v1h-2zM299 887h4v1h-4zM427 887h3v1h-3zM303 888h5v1h-5zM422 888h5v1h-5zM308 889h10v1h-10zM392 889h15v1h-15zM417 889h5v1h-5zM318 890h15v1h-15zM369 890h23v1h-23zM407 890h10v1h-10zM333 891h10v1h-10zM365 891h4v1h-4zM343 892h5v1h-5zM361 892h4v1h-4zM348 893h5v1h-5zM357 893h4v1h-4zM353 894h4v1h-4z" fill="#000" shape-rendering="crispEdges"/>
<path d="M1324 130h25v1h-25zM1316 131h8v1h-8zM1349 131h9v1h-9zM1310 132h6v1h-6zM1358 132h6v1h-6zM1306 133h4v1h-4zM1364 133h4v1h-4zM1302 134h4v1h-4zM1368 134h4v1h-4zM1298 135h4v1h-4zM1372 135h4v1h-4zM1294 136h4v1h-4zM1376 136h3v1h-3zM1292 137h2v1h-2zM1379 137h3v1h-3zM1289 138h3v1h-3zM1382 138h2v1h-2zM1286 139h3v1h-3zM1384 139h3v1h-3zM1284 140h2v1h-2zM1387 140h3v1h-3zM1281 141h3v1h-3zM1390 141h2v1h-2zM1279 142h2v1h-2zM1392 142h2v1h-2zM1277 143h2v1h-2zM1394 143h2v1h-2zM1275 144h2v1h-2zM1396 144h2v1h-2zM1273 145h2v1h-2zM1398 145h2v1h-2zM1272 146h1v1h-1zM1400 146h1v1h-1zM1270 147h2v1h-2zM1401 147h2v1h-2zM1268 148h2v1h-2zM1403 148h2v1h-2zM1266 149h2v1h-2zM1405 149h2v1h-2zM1265 150h1v1h-1zM1407 150h1v1h-1zM1263 151h2v1h-2zM1408 151h2v1h-2zM1262 152h1v1h-1zM1410 152h1v1h-1zM1261 153h1v1h-1zM1411 153h1v1h-1zM1259 154h2v1h-2zM1412 154h2v1h-2zM1258 155h1v1h-1zM1414 155h1v1h-1zM1256 156h2v1h-2zM1415 156h2v1h-2zM1255 157h1v1h-1zM1417 157h1v1h-1zM1254 158h1v1h-1zM1418 158h1v1h-1zM1252 159h2v1h-2zM1419 159h2v1h-2zM1251 160h1v1h-1zM1421 160h1v1h-1zM1250 161h1v1h-1zM1422 161h1v1h-1zM1249 162h1v1h-1zM1423 162h1v1h-1zM1248 163h1v1h-1zM1424 163h1v1h-1zM1247 164h1v1h-1zM1425 164h1v1h-1zM1246 165h1v1h-1zM1426 165h1v1h-1zM1245 166h1v1h-1zM1427 166h1v1h-1zM1244 167h1v1h-1zM1428 167h1v1h-1zM1243 168h1v1h-1zM1429 168h1v1h-1zM1242 169h1v1h-1zM1430 169h1v1h-1zM1241 170h1v1h-1zM1431 170h1v1h-1zM1240 171h1v1h-1zM1432 171h1v1h-1zM1239 172h1v1h-1zM1433 172h1v1h-1zM1238 173h1v1h-1zM1434 173h1v1h-1zM1237 174h1v1h-1zM1435 174h1v1h-1zM1236 175h1v1h-1zM1436 175h1v1h-1zM1235 176h1v1h-1zM1437 176h1v1h-1zM1234 177h1v1h-1zM1438 177h1v1h-1zM1233 178h1v1h-1zM1439 178h1v1h-1zM1232 179h1v2h-1zM1440 179h1v2h-1zM1231 181h1v1h-1zM1441 181h1v1h-1zM1230 182h1v1h-1zM1442 182h1v1h-1zM1229 183h1v2h-1zM1443 183h1v2h-1zM1228 185h1v1h-1zM1444 185h1v1h-1zM1227 186h1v2h-1zM1445 186h1v2h-1zM1226 188h1v1h-1zM1446 188h1v1h-1zM1225 189h1v1h-1zM1447 189h1v1h-1zM1224 190h1v2h-1zM1448 190h1v2h-1zM1223 192h1v1h-1zM1449 192h1v1h-1zM1222 193h1v2h-1zM1450 193h1v2h-1zM1221 195h1v2h-1zM1451 195h1v2h-1zM1220 197h1v2h-1zM1452 197h1v2h-1zM1219 199h1v1h-1zM1453 199h1v1h-1zM1218 200h1v2h-1zM1454 200h1v2h-1zM1217 202h1v2h-1zM1455 202h1v2h-1zM1216 204h1v2h-1zM1456 204h1v2h-1zM1215 206h1v2h-1zM1457 206h1v2h-1zM1214 208h1v2h-1zM1458 208h1v3h-1zM1213 210h1v3h-1zM1459 211h1v2h-1zM1212 213h1v3h-1zM1460 213h1v3h-1zM1211 216h1v2h-1zM1461 216h1v3h-1zM1210 218h1v3h-1zM1462 219h1v2h-1zM1209 221h1v3h-1zM1463 221h1v4h-1zM1208 224h1v4h-1zM1464 225h1v4h-1zM1207 228h1v4h-1zM1465 229h1v4h-1zM1206 232h1v4h-1zM1466 233h1v4h-1zM1205 236h1v6h-1zM1467 237h1v6h-1zM1204 242h1v9h-1zM1468 243h1v8h-1zM1203 251h1v25h-1zM1469 251h1v25h-1zM1204 276h1v8h-1zM1468 276h1v9h-1zM1205 284h1v6h-1zM1467 285h1v6h-1zM1206 290h1v4h-1zM1466 291h1v4h-1zM1207 294h1v4h-1zM1465 295h1v4h-1zM1208 298h1v4h-1zM1464 299h1v4h-1zM1209 302h1v4h-1zM1463 303h1v3h-1zM1210 306h1v2h-1zM1462 306h1v3h-1zM1211 308h1v3h-1zM1461 309h1v2h-1zM1212 311h1v3h-1zM1460 311h1v3h-1zM1213 314h1v2h-1zM1459 314h1v3h-1zM1214 316h1v3h-1zM1458 317h1v2h-1zM1215 319h1v2h-1zM1457 319h1v2h-1zM1216 321h1v2h-1zM1456 321h1v2h-1zM1217 323h1v2h-1zM1455 323h1v2h-1zM1218 325h1v2h-1zM1454 325h1v2h-1zM1219 327h1v1h-1zM1453 327h1v1h-1zM1220 328h1v2h-1zM1452 328h1v2h-1zM1221 330h1v2h-1zM1451 330h1v2h-1zM1222 332h1v2h-1zM1450 332h1v2h-1zM1223 334h1v1h-1zM1449 334h1v1h-1zM1224 335h1v2h-1zM1448 335h1v2h-1zM1225 337h1v1h-1zM1447 337h1v1h-1zM1226 338h1v1h-1zM1446 338h1v1h-1zM1227 339h1v2h-1zM1445 339h1v2h-1zM1228 341h1v1h-1zM1444 341h1v1h-1zM1229 342h1v2h-1zM1443 342h1v2h-1zM1230 344h1v1h-1zM1442 344h1v1h-1zM1231 345h1v1h-1zM1441 345h1v1h-1zM1232 346h1v2h-1zM1440 346h1v2h-1zM1233 348h1v1h-1zM1439 348h1v1h-1zM1234 349h1v1h-1zM1438 349h1v1h-1zM1235 350h1v1h-1zM1437 350h1v1h-1zM1236 351h1v1h-1zM1436 351h1v1h-1zM1237 352h1v1h-1zM1435 352h1v1h-1zM1238 353h1v1h-1zM1434 353h1v1h-1zM1239 354h1v1h-1zM1433 354h1v1h-1zM1240 355h1v1h-1zM1432 355h1v1h-1zM1241 356h1v1h-1zM1431 356h1v1h-1zM1242 357h1v1h-1zM1430 357h1v1h-1zM1243 358h1v1h-1zM1429 358h1v1h-1zM1244 359h1v1h-1zM1428 359h1v1h-1zM1245 360h1v1h-1zM1427 360h1v1h-1zM1246 361h1v1h-1zM1426 361h1v1h-1zM1247 362h1v1h-1zM1425 362h1v1h-1zM1248 363h1v1h-1zM1424 363h1v1h-1zM1249 364h1v1h-1zM1423 364h1v1h-1zM1250 365h1v1h-1zM1422 365h1v1h-1zM1251 366h1v1h-1zM1421 366h1v1h-1zM1252 367h2v1h-2zM1419 367h2v1h-2zM1254 368h1v1h-1zM1418 368h1v1h-1zM1255 369h1v1h-1zM1417 369h1v1h-1zM1256 370h2v1h-2zM1415 370h2v1h-2zM1258 371h1v1h-1zM1414 371h1v1h-1zM1259 372h2v1h-2zM1412 372h2v1h-2zM1261 373h1v1h-1zM1411 373h1v1h-1zM1262 374h1v1h-1zM1410 374h1v1h-1zM1263 375h2v1h-2zM1408 375h2v1h-2zM1265 376h1v1h-1zM1407 376h1v1h-1zM1266 377h2v1h-2zM1405 377h2v1h-2zM1268 378h2v1h-2zM1403 378h2v1h-2zM1270 379h2v1h-2zM1401 379h2v1h-2zM1272 380h1v1h-1zM1400 380h1v1h-1zM1273 381h2v1h-2zM1398 381h2v1h-2zM1275 382h2v1h-2zM1396 382h2v1h-2zM1277 383h2v1h-2zM1394 383h2v1h-2zM1279 384h2v1h-2zM1392 384h2v1h-2zM1281 385h2v1h-2zM1389 385h3v1h-3zM1283 386h3v1h-3zM1387 386h2v1h-2zM1286 387h3v1h-3zM1384 387h3v1h-3zM1289 388h2v1h-2zM1381 388h3v1h-3zM1291 389h3v1h-3zM1379 389h2v1h-2zM1294 390h3v1h-3zM1375 390h4v1h-4zM1297 391h4v1h-4zM1371 391h4v1h-4zM1301 392h4v1h-4zM1367 392h4v1h-4zM1305 393h4v1h-4zM1363 393h4v1h-4zM1309 394h6v1h-6zM1357 394h6v1h-6zM1315 395h9v1h-9zM1349 395h8v1h-8zM1324 396h25v1h-25z" fill="#000" shape-rendering="crispEdges"/>
<g shape-rendering="crispEdges">
<rect x="1152" y="116" width="298" height="1" fill="#ff00ff"/>
<rect x="1152" y="412" width="298" height="1" fill="#ff00ff"/>
<rect x="1152" y="116" width="2" height="297" fill="#ff00ff"/>
<rect x="1448" y="116" width="2" height="297" fill="#ff00ff"/>
<rect x="1278" y="233" width="57" height="1" fill="#ff00ff"/>
<rect x="1278" y="289" width="57" height="1" fill="#ff00ff"/>
<rect x="1278" y="233" width="2" height="57" fill="#ff00ff"/>
<rect x="1333" y="233" width="2" height="57" fill="#ff00ff"/>
<polygon points="1211.50,246.00 1213.90,254.80 1221.10,255.40 1215.90,259.10 1218.40,268.70 1211.00,262.70 1203.60,268.70 1206.10,259.10 1200.90,255.40 1208.10,254.80" fill="#ff0000"/>
<polygon points="1262.50,242.00 1265.90,250.80 1273.10,251.40 1267.90,255.10 1270.40,264.70 1263.00,258.70 1255.60,264.70 1258.10,255.10 1252.90,251.40 1260.10,250.80" fill="#ff0000"/>
<polygon points="1302.50,242.00 1305.26,250.80 1312.10,251.40 1307.15,255.10 1309.53,264.70 1302.50,258.70 1295.47,264.70 1297.85,255.10 1292.90,251.40 1299.74,250.80" fill="#ff0000"/>
<polygon points="1338.50,264.00 1341.90,272.80 1349.10,273.40 1343.90,277.10 1346.40,286.70 1339.00,280.70 1331.60,286.70 1334.10,277.10 1328.90,273.40 1336.10,272.80" fill="#ff0000"/>
<polygon points="1232.50,299.00 1234.90,307.80 1242.10,308.40 1236.90,312.10 1239.40,321.70 1232.00,315.70 1224.60,321.70 1227.10,312.10 1221.90,308.40 1229.10,307.80" fill="#ff0000"/>
<polygon points="1236.50,290.00 1238.90,298.80 1246.10,299.40 1240.90,303.10 1243.40,312.70 1236.00,306.70 1228.60,312.70 1231.10,303.10 1225.90,299.40 1233.10,298.80" fill="#ff0000"/>
<polygon points="1252.50,305.00 1255.90,313.80 1263.10,314.40 1257.90,318.10 1260.40,327.70 1253.00,321.70 1245.60,327.70 1248.10,318.10 1242.90,314.40 1250.10,313.80" fill="#ff0000"/>
<polygon points="1390.50,288.00 1392.90,296.80 1400.10,297.40 1394.90,301.10 1397.40,310.70 1390.00,304.70 1382.60,310.70 1385.10,301.10 1379.90,297.40 1387.10,296.80" fill="#ff0000"/>
<polygon points="1418.50,246.00 1420.90,254.80 1428.10,255.40 1422.90,259.10 1425.40,268.70 1418.00,262.70 1410.60,268.70 1413.10,259.10 1407.90,255.40 1415.10,254.80" fill="#ff0000"/>
</g>
<g font-family='Liberation Sans', sans-serif fill="#000" text-rendering="geometricPrecision">
<g filter="url(#bwh)"><text transform="translate(636.00,43.00) scale(1.0230,1)" font-size="30.4" text-anchor="middle" >Time Interval: 26-Aug-2025 02:00:00 to 26-Aug-2025 03:00:00</text></g>
<g filter="url(#bwh)"><text transform="translate(183.40,116.50) scale(1.0160,1)" font-size="24.6" text-anchor="end" >Be_thick</text></g>
<g filter="url(#bwh)"><text transform="translate(183.40,163.50) scale(1.0160,1)" font-size="24.6" text-anchor="end" >Al_thick</text></g>
<g filter="url(#bwh)"><text transform="translate(183.40,209.50) scale(1.0160,1)" font-size="24.6" text-anchor="end" >Al_med</text></g>
<g filter="url(#bwh)"><text transform="translate(183.40,255.50) scale(1.0160,1)" font-size="24.6" text-anchor="end" >Be_med</text></g>
<g filter="url(#bwh)"><text transform="translate(183.40,302.50) scale(1.0160,1)" font-size="24.6" text-anchor="end" >Be_thin</text></g>
<g filter="url(#bwh)"><text transform="translate(183.40,348.50) scale(1.0160,1)" font-size="24.6" text-anchor="end" >C_poly</text></g>
<g filter="url(#bwh)"><text transform="translate(183.40,395.50) scale(1.0160,1)" font-size="24.6" text-anchor="end" >Ti_poly</text></g>
<g filter="url(#bwh)"><text transform="translate(183.40,441.50) scale(1.0160,1)" font-size="24.6" text-anchor="end" >Al_poly</text></g>
<g filter="url(#bwh)"><text transform="translate(183.40,487.50) scale(1.0160,1)" font-size="24.6" text-anchor="end" >Al_mesh</text></g>
<g filter="url(#bwh)"><text transform="translate(183.40,534.50) scale(1.0160,1)" font-size="24.6" text-anchor="end" >Gband</text></g>
<g filter="url(#bwh)"><text transform="translate(184.00,589.00) scale(1.0270,1)" font-size="24.6" text-anchor="end" >M1.0</text></g>
<g filter="url(#bwh)"><text transform="translate(184.00,1110.00) scale(1.0270,1)" font-size="24.6" text-anchor="end" >C1.0</text></g>
<g filter="url(#bwh)"><text transform="translate(340.50,1151.00) scale(1.0270,1)" font-size="24.6" text-anchor="middle" >02:10</text></g>
<g filter="url(#bwh)"><text transform="translate(488.50,1151.00) scale(1.0270,1)" font-size="24.6" text-anchor="middle" >02:20</text></g>
<g filter="url(#bwh)"><text transform="translate(636.50,1151.00) scale(1.0270,1)" font-size="24.6" text-anchor="middle" >02:30</text></g>
<g filter="url(#bwh)"><text transform="translate(784.50,1151.00) scale(1.0270,1)" font-size="24.6" text-anchor="middle" >02:40</text></g>
<g filter="url(#bwh)"><text transform="translate(932.50,1151.00) scale(1.0270,1)" font-size="24.6" text-anchor="middle" >02:50</text></g>
<g filter="url(#bwh)"><text transform="translate(1080.50,1151.00) scale(1.0270,1)" font-size="24.6" text-anchor="middle" >03:00</text></g>
<g filter="url(#bwv)"><text transform="translate(101.00,839.50) rotate(-90) scale(0.9820,1)" font-size="25.3" text-anchor="middle" >GOES flux</text></g>
</g>
<g font-family='Liberation Sans', sans-serif fill="#000" text-rendering="geometricPrecision">
<g filter="url(#bw)"><text transform="translate(1211.00,275.50)" font-size="13" text-anchor="middle" >4199</text><text transform="translate(1212.00,275.50)" font-size="13" text-anchor="middle" >4199</text></g>
<g filter="url(#bw)"><text transform="translate(1261.90,272.50)" font-size="13" text-anchor="middle" >4198</text><text transform="translate(1262.90,272.50)" font-size="13" text-anchor="middle" >4198</text></g>
<g filter="url(#bw)"><text transform="translate(1302.00,272.50)" font-size="13" text-anchor="middle" >4191</text><text transform="translate(1303.00,272.50)" font-size="13" text-anchor="middle" >4191</text></g>
<g filter="url(#bw)"><text transform="translate(1338.00,293.50)" font-size="13" text-anchor="middle" >4194</text><text transform="translate(1339.00,293.50)" font-size="13" text-anchor="middle" >4194</text></g>
<g filter="url(#bw)"><text transform="translate(1231.00,329.50)" font-size="13" text-anchor="middle" >4197</text><text transform="translate(1232.00,329.50)" font-size="13" text-anchor="middle" >4197</text></g>
<g filter="url(#bw)"><text transform="translate(1235.50,319.50)" font-size="13" text-anchor="middle" >4196</text><text transform="translate(1236.50,319.50)" font-size="13" text-anchor="middle" >4196</text></g>
<g filter="url(#bw)"><text transform="translate(1252.10,334.50)" font-size="13" text-anchor="middle" >4195</text><text transform="translate(1253.10,334.50)" font-size="13" text-anchor="middle" >4195</text></g>
<g filter="url(#bw)"><text transform="translate(1390.00,317.50)" font-size="13" text-anchor="middle" >4188</text><text transform="translate(1391.00,317.50)" font-size="13" text-anchor="middle" >4188</text></g>
<g filter="url(#bw)"><text transform="translate(1417.50,276.50)" font-size="13" text-anchor="middle" >4189</text><text transform="translate(1418.50,276.50)" font-size="13" text-anchor="middle" >4189</text></g>
</g>
</svg></body></html>
